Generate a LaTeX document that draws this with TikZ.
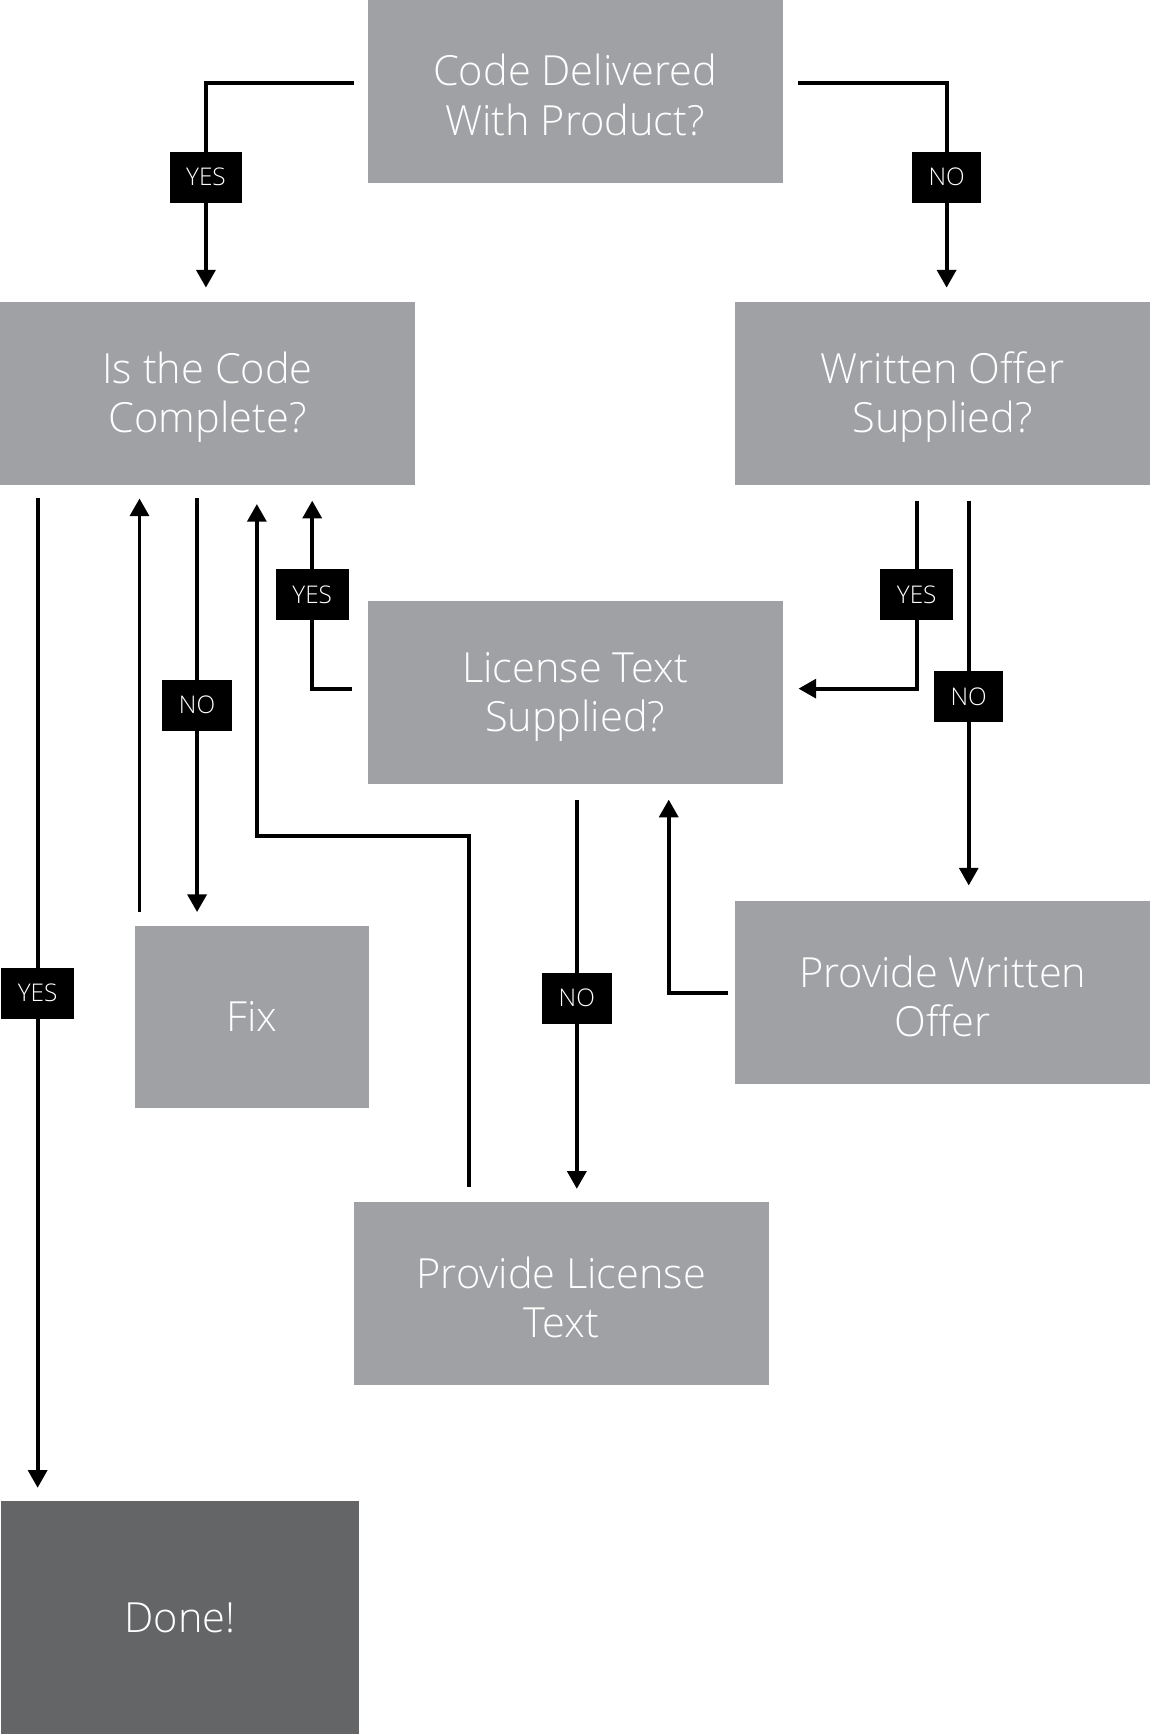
\documentclass[tikz,border=0pt]{standalone}
\usepackage{fontspec}
\setmainfont{Open Sans}[UprightFont=* Light]
\usetikzlibrary{arrows.meta,calc}
\definecolor{boxgray}{HTML}{A0A1A4}
\definecolor{donegray}{HTML}{646567}
\newcommand{\toppad}{\rule{0pt}{35pt}}
\begin{document}
\begin{tikzpicture}[x=1pt,y=-1pt,
  box/.style={rectangle, fill=boxgray, text=white, minimum width=375pt, minimum height=165pt,
    inner sep=0pt, align=center, font=\fontsize{37.5}{44.5}\selectfont},
  lab/.style={rectangle, fill=black, text=white, minimum height=46pt, inner xsep=15pt,
    inner ysep=0pt, font=\fontsize{22}{24}\selectfont},
  conn/.style={line width=3.5pt},
  arr/.style={conn, -{Triangle[length=16pt,width=17pt]}}]
\useasboundingbox (0,0) rectangle (1040,1568);

\node[box] (T) at (519.5,82.5) {\toppad Code Delivered\\With Product?};
\node[box] (A) at (187.5,355.5) {\toppad Is the Code\\Complete?};
\node[box] (W) at (851.5,355.5) {\toppad Written Offer\\Supplied?};
\node[box] (L) at (519.5,625.5) {\toppad License Text\\Supplied?};
\node[box, minimum width=211pt] (F) at (227.5,918.5) {Fix};
\node[box] (O) at (851.5,896.5) {\toppad Provide Written\\Offer};
\node[box] (P) at (507,1168.5) {\toppad Provide License\\Text};
\node[box, fill=donegray, minimum width=323pt, minimum height=210pt] (D) at (162.5,1461) {Done!};

% Code delivered -> yes / no
\draw[arr] ([xshift=-12pt,yshift=7.5pt]T.west) -| ([xshift=-1.5pt,yshift=13pt]A.north)
  node[lab, pos=0.73] {YES};
\draw[arr] ([xshift=14pt,yshift=7.5pt]T.east) -| ([xshift=3.5pt,yshift=13pt]W.north)
  node[lab, pos=0.73] {NO};

% Is the code complete? YES -> Done
\draw[arr] ([xshift=-153.5pt,yshift=-12pt]A.south) -- ([xshift=-128.5pt,yshift=12pt]D.north)
  node[lab, pos=0.5] {YES};
% Fix -> back up
\draw[arr] ([xshift=-101.5pt,yshift=12pt]F.north) -- ([xshift=-101.5pt,yshift=-12pt]F.north |- A.south);
% NO -> Fix
\draw[arr] ([xshift=-49.5pt,yshift=-12pt]F.north |- A.south) -- ([xshift=-49.5pt,yshift=12pt]F.north)
  node[lab, pos=0.5] {NO};

% Provide License Text -> back to Is the code complete
\draw[arr] ([xshift=-83pt,yshift=14pt]P.north) |- ([xshift=-287.5pt,yshift=-47pt]L.south)
  -- ([xshift=44.5pt,yshift=-17pt]A.south);

% License Text Supplied? YES -> Is the code complete
\draw[arr] ([xshift=-14pt,yshift=3.5pt]L.west) -| ([xshift=94.5pt,yshift=-14pt]A.south)
  node[lab, pos=0.75] {YES};

% Written offer YES -> License text
\draw[arr] ([xshift=-23.5pt,yshift=-14pt]W.south) |- ([xshift=14pt,yshift=3.5pt]L.east)
  node[lab, pos=0.25] {YES};
% Written offer NO -> Provide written offer
\draw[arr] ([xshift=23.5pt,yshift=-14pt]W.south) -- ([xshift=23.5pt,yshift=14pt]O.north)
  node[lab, pos=0.51] {NO};

% License text NO -> Provide license text
\draw[arr] ([xshift=1.5pt,yshift=-14pt]L.south) -- ([xshift=14pt,yshift=12pt]P.north)
  node[lab, pos=0.51] {NO};
% Provide written offer -> License text
\draw[arr] ([xshift=-6pt]O.west) -| ([xshift=84.5pt,yshift=-14pt]L.south);
\end{tikzpicture}
\end{document}
